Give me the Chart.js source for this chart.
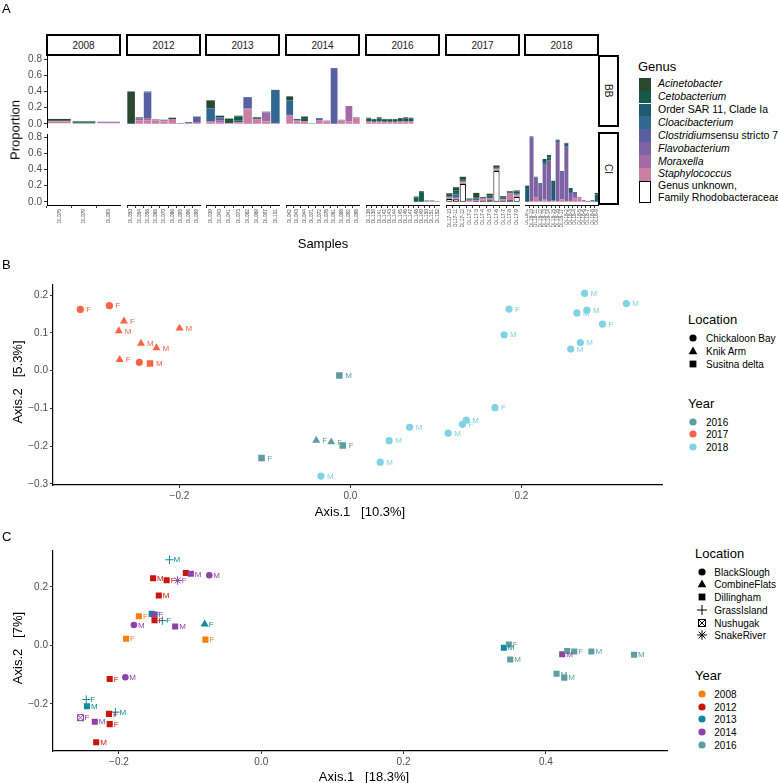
<!DOCTYPE html>
<html>
<head>
<meta charset="utf-8">
<script src="https://cdn.jsdelivr.net/npm/chart.js@4.4.1/dist/chart.umd.min.js"></script>
<style>
  body { margin: 0; background: #fff; font-family: "Liberation Sans", Arial, sans-serif; }
  #fig { position: relative; width: 778px; height: 783px; overflow: hidden; background: #fff; }
  #fig div { position: absolute; }
  .strip { box-sizing: border-box; border: 2.5px solid #000; font-size: 10px; color: #1a1a1a;
           display: flex; align-items: center; justify-content: center; background: #fff; }
  .vstrip span { writing-mode: vertical-rl; }
  .ttl { font-size: 13px; color: #000; white-space: pre; transform: translate(-50%, -50%); }
  .vttl { font-size: 13px; color: #000; white-space: pre; transform: translate(-50%, -50%) rotate(-90deg); }
  .leg { font-size: 10px; color: #000; white-space: nowrap; transform: translateY(-50%); }
  .legt { font-size: 13px; color: #000; transform: translateY(-50%); }
</style>
</head>
<body>
<div id="fig"></div>
<script>
// ---------- panel A data ----------
const years = ['2008', '2012', '2013', '2014', '2016', '2017', '2018'];
const sites = ['BB', 'CI'];
const propTicks = [0, 0.2, 0.4, 0.6, 0.8];

const sampleNames = [
  'DL075', 'DL079', 'DL093',
  'DL050', 'DL054', 'DL058', 'DL068', 'DL070', 'DL086', 'DL095', 'DL096', 'DL099',
  'DL039', 'DL040', 'DL041', 'DL073', 'DL082', 'DL089', 'DL097', 'DL101',
  'DL042', 'DL043', 'DL044', 'DL071', 'DL072', 'DL078', 'DL081', 'DL088', 'DL092', 'DL098',
  'DL138', 'DL139', 'DL141', 'DL142', 'DL143', 'DL144', 'DL145', 'DL146', 'DL147', 'DL148', 'DL149', 'DL150', 'DL151', 'DL152',
  'DL17-10', 'DL17-11', 'DL17-12', 'DL17-2', 'DL17-3', 'DL17-4', 'DL17-5', 'DL17-6', 'DL17-7', 'DL17-8', 'DL17-9',
  'DL18-1', 'DL18-10', 'DL18-11', 'DL18-12', 'DL18-13', 'DL18-14', 'DL18-15', 'DL18-16', 'DL18-17',
  'DL18-2', 'DL18-3', 'DL18-4', 'DL18-5', 'DL18-6', 'DL18-7', 'DL18-8', 'DL18-9'
];
const sampleYear = [
  '2008', '2008', '2008',
  ...Array(9).fill('2012'), ...Array(8).fill('2013'), ...Array(10).fill('2014'),
  ...Array(14).fill('2016'), ...Array(11).fill('2017'), ...Array(17).fill('2018')
];
const sampleSite = [
  ...Array(3 + 9 + 8 + 10 + 9).fill('BB'),
  ...Array(5 + 11 + 17).fill('CI')
];

// one value per sample, in the sample order above
const acinetobacter = [
  .015, .015, 0,
  .39, 0, 0, 0, 0, .02, 0, 0, 0,
  .10, .02, .03, .01, 0, .01, 0, 0,
  .05, 0, .02, 0, 0, 0, 0, 0, 0, 0,
  .01, .01, .015, .01, .01, .01, .01, .015, .01, .01, .01, 0, 0, 0,
  .02, .04, .03, .01, .06, .01, .02, .02, .01, .01, .01,
  0, 0, 0, 0, 0, 0, 0, 0, 0, 0, 0, 0, 0, 0, 0, 0, 0
];
const cetobacterium = [
  .01, .01, 0,
  .01, 0, 0, 0, 0, 0, 0, 0, 0,
  0, 0, .025, .05, 0, 0, 0, 0,
  0, 0, .04, 0, 0, 0, 0, 0, 0, 0,
  .035, .025, .035, .025, .025, .025, .03, .035, .035, .055, .12, .01, .005, .005,
  .02, .03, .02, 0, .01, 0, .02, .01, .01, .01, .03,
  .03, 0, 0, 0, .04, .03, 0, .01, 0, .01, 0, 0, 0, 0, 0, 0, .02
];
const sar11 = [
  0, 0, 0,
  0, 0, 0, .005, .005, 0, .005, 0, 0,
  0, 0, 0, .02, 0, .01, 0, 0,
  0, 0, 0, 0, 0, 0, 0, 0, 0, 0,
  0, 0, 0, 0, 0, 0, 0, 0, 0, 0, 0, 0, 0, 0,
  0, .02, .01, 0, 0, 0, 0, 0, 0, 0, .01,
  .17, .01, .01, .01, .03, .04, .24, .02, .01, .03, .06, .01, 0, 0, 0, .01, .09
];
const cloacibacterium = [
  0, 0, 0,
  0, .01, .01, 0, 0, 0, 0, .01, 0,
  .16, .01, 0, 0, .01, 0, .01, .41,
  .18, .02, 0, .005, 0, 0, 0, 0, 0, 0,
  0, 0, 0, 0, 0, 0, 0, 0, 0, 0, 0, 0, 0, 0,
  .01, .03, 0, .01, .02, .01, .02, .01, .02, 0, 0,
  0, 0, 0, 0, 0, 0, 0, 0, 0, 0, 0, 0, 0, 0, 0, 0, 0
];
const clostridium = [
  0, 0, .005,
  0, 0, .32, 0, 0, 0, 0, 0, .07,
  0, .03, 0, 0, .13, 0, 0, 0,
  0, 0, 0, 0, .03, 0, .69, 0, 0, 0,
  0, 0, 0, 0, 0, 0, 0, 0, 0, 0, 0, 0, 0, 0,
  0, .01, 0, 0, 0, 0, 0, 0, 0, 0, 0,
  0, 0, 0, 0, 0, 0, 0, 0, 0, 0, 0, 0, 0, 0, 0, 0, 0
];
const flavobacterium = [
  0, 0, 0,
  0, 0, 0, 0, 0, 0, 0, 0, 0,
  0, 0, 0, 0, 0, 0, 0, 0,
  0, 0, 0, 0, 0, 0, 0, 0, 0, 0,
  0, 0, 0, 0, 0, 0, 0, 0, 0, 0, 0, 0, 0, 0,
  0, 0, 0, 0, 0, 0, 0, 0, 0, 0, 0,
  0, .79, .24, .21, .43, .50, .01, .73, .34, .68, .10, .05, .01, .01, .01, 0, 0
];
const moraxella = [
  .005, 0, .01,
  0, .03, .03, .01, .015, .005, 0, 0, .01,
  .01, .02, 0, 0, .01, .01, .11, 0,
  0, .01, 0, 0, 0, .01, 0, .01, .19, .01,
  .01, .01, .01, .01, .005, .005, .01, .01, .01, 0, 0, 0, 0, 0,
  .01, .01, .01, .01, 0, .01, 0, .01, 0, .01, .01,
  0, 0, 0, 0, .01, 0, 0, 0, 0, 0, 0, .02, .01, 0, 0, 0, 0
];
const staphylococcus = [
  .03, .005, .01,
  0, .04, .04, .04, .03, .05, .005, .01, .01,
  .02, .02, .01, .02, .18, .05, .03, .01,
  .11, .03, .03, 0, .04, .03, 0, .04, .03, .07,
  .02, .015, .02, .015, .02, .02, .02, .02, .02, 0, 0, .005, .01, 0,
  .01, .01, .02, .01, .01, .02, .02, .02, .02, .08, .02,
  0, .01, .06, .01, .02, .01, .01, .01, .03, .01, .01, .04, .04, .01, 0, .01, 0
];
const rhodobacteraceae = [
  0, 0, 0,
  0, 0, 0, 0, 0, 0, 0, 0, 0,
  0, 0, 0, 0, 0, 0, 0, 0,
  0, 0, 0, 0, 0, 0, 0, 0, 0, 0,
  0, 0, 0, 0, 0, 0, 0, 0, 0, 0, 0, 0, 0, 0,
  .035, .03, .22, 0, .01, .01, .02, .38, .01, .02, .06,
  0, 0, 0, 0, 0, 0, 0, 0, 0, 0, 0, 0, 0, 0, 0, 0, 0
];

const genusLabels = [
  '<i>Acinetobacter</i>', '<i>Cetobacterium</i>', 'Order SAR 11, Clade Ia', '<i>Cloacibacterium</i>',
  '<i>Clostridium</i>sensu stricto 7', '<i>Flavobacterium</i>', '<i>Moraxella</i>', '<i>Staphylococcus</i>',
  'Genus unknown,<br>Family Rhodobacteraceae'
];
const genusValues = [acinetobacter, cetobacterium, sar11, cloacibacterium, clostridium,
                     flavobacterium, moraxella, staphylococcus, rhodobacteraceae];
const genusColors = ['#29492f', '#14594a', '#1c5c6c', '#326792', '#5860a2', '#7d62a4', '#a46aa5', '#cb80a3', '#ffffff'];

// ---------- panel B data ----------
const bX = [-0.316, -0.282, -0.265, -0.271, -0.200, -0.245, -0.227, -0.270, -0.247, -0.2345,
            -0.013, -0.040, -0.0225, -0.009, -0.104,
            -0.0345, 0.0453, 0.0349, 0.0693, 0.1143, 0.131, 0.1356, 0.169, 0.1798, 0.1856,
            0.274, 0.265, 0.2767, 0.3228, 0.2949, 0.269, 0.2577];
const bY = [0.162, 0.172, 0.131, 0.105, 0.112, 0.072, 0.060, 0.029, 0.022, 0.019,
            -0.013, -0.1845, -0.189, -0.198, -0.231,
            -0.279, -0.1855, -0.2424, -0.150, -0.1656, -0.142, -0.131, -0.098, 0.095, 0.163,
            0.2044, 0.1527, 0.160, 0.1777, 0.1233, 0.0742, 0.057];
const bLoc = ['Chickaloon Bay', 'Chickaloon Bay', 'Knik Arm', 'Knik Arm', 'Knik Arm', 'Knik Arm', 'Knik Arm', 'Knik Arm', 'Chickaloon Bay', 'Susitna delta',
              'Susitna delta', 'Knik Arm', 'Knik Arm', 'Susitna delta', 'Susitna delta',
              ...Array(17).fill('Chickaloon Bay')];
const bYear = [...Array(10).fill('2017'), ...Array(5).fill('2016'), ...Array(17).fill('2018')];
const bSex = ['F', 'F', 'F', 'M', 'M', 'M', 'M', 'F', '', 'M',
              'M', 'F', 'F', 'F', 'F',
              'M', 'M', 'M', 'M', 'M', 'F', 'M', 'F', 'M', 'F', 'M', 'M', 'M', 'M', 'F', 'M', 'M'];
const bLocations = ['Chickaloon Bay', 'Knik Arm', 'Susitna delta'];
const bShapes = ['circle', 'triangle', 'square'];
const bYears = ['2016', '2017', '2018'];
const bYearColors = ['#5f9ea0', '#fb6446', '#7fd3e4'];
const bXTicks = [-0.2, 0, 0.2];
const bYTicks = [-0.3, -0.2, -0.1, 0, 0.1, 0.2];

// ---------- panel C data ----------
const cX = [-0.129, -0.152, -0.133, -0.106, -0.099, -0.1175, -0.073, -0.144, -0.172, -0.154,
            -0.150, -0.150, -0.139, -0.179, -0.121, -0.0795, -0.190, -0.0785, -0.213, -0.191,
            -0.246, -0.245, -0.214, -0.205, -0.254, -0.234, -0.213, -0.232,
            0.341, 0.348, 0.350, 0.423, 0.430, 0.440, 0.464, 0.524, 0.415, 0.426];
const cY = [0.293, 0.230, 0.223, 0.248, 0.245, 0.222, 0.240, 0.171, 0.100, 0.108,
            0.1057, 0.086, 0.085, 0.070, 0.065, 0.073, 0.023, 0.020, -0.115, -0.109,
            -0.185, -0.208, -0.234, -0.228, -0.247, -0.261, -0.269, -0.331,
            -0.008, 0.003, -0.048, -0.030, -0.019, -0.021, -0.021, -0.032, -0.097, -0.110];
const cLoc = ['GrassIsland', 'Dillingham', 'Dillingham', 'Dillingham', 'Dillingham', 'SnakeRiver', 'BlackSlough', 'Dillingham', 'Dillingham', 'Dillingham',
              'Dillingham', 'Dillingham', 'GrassIsland', 'BlackSlough', 'Dillingham', 'CombineFlats', 'Dillingham', 'Dillingham', 'Dillingham', 'BlackSlough',
              'GrassIsland', 'Dillingham', 'Dillingham', 'GrassIsland', 'Nushugak', 'Dillingham', 'Dillingham', 'Dillingham',
              ...Array(10).fill('Dillingham')];
const cYear = ['2013', '2012', '2012', '2012', '2014', '2014', '2014', '2012', '2008', '2013',
               '2014', '2012', '2013', '2014', '2014', '2013', '2008', '2008', '2012', '2014',
               '2013', '2013', '2012', '2013', '2014', '2014', '2012', '2012',
               '2013', '2016', '2016', '2014', '2016', '2016', '2016', '2016', '2016', '2016'];
const cSex = ['M', 'M', 'F', '', 'M', 'F', 'M', 'M', 'F', 'F',
              'F', 'F', 'F', 'M', 'M', 'F', 'F', 'F', 'F', 'M',
              'F', 'M', 'F', 'M', 'F', 'M', 'F', 'M',
              'M', 'F', 'M', 'M', '', 'F', 'M', 'M', 'M', 'M'];
const cLocations = ['BlackSlough', 'CombineFlats', 'Dillingham', 'GrassIsland', 'Nushugak', 'SnakeRiver'];
const cShapes = ['circle', 'triangle', 'square', 'plus', 'boxx', 'star'];
const cYears = ['2008', '2012', '2013', '2014', '2016'];
const cYearColors = ['#fd7f12', '#c8160f', '#0e8b9e', '#8e42a6', '#5f9ea0'];
const cXTicks = [-0.2, 0, 0.2, 0.4];
const cYTicks = [-0.2, 0, 0.2];

// ---------- helpers ----------
const FONT = '"Liberation Sans", Arial, sans-serif';
Chart.defaults.font.family = FONT;
Chart.defaults.color = '#4d4d4d';
Chart.defaults.animation = false;

const fig = document.getElementById('fig');
function addDiv(html, css, cls) {
  const d = document.createElement('div');
  if (cls) d.className = cls;
  d.innerHTML = html;
  Object.assign(d.style, css);
  fig.appendChild(d);
  return d;
}
function addCanvas(left, top, width, height) {
  const d = addDiv('', { left: left + 'px', top: top + 'px', width: width + 'px', height: height + 'px' });
  const cv = document.createElement('canvas');
  d.appendChild(cv);
  return cv;
}
const fixW = w => s => { s.width = w; s.paddingTop = 0; s.paddingBottom = 0; };
const fixH = h => s => { s.height = h; s.paddingLeft = 0; s.paddingRight = 0; };
const setTicks = vals => s => { s.ticks = vals.map(v => ({ value: v })); };
const fmt = v => (v < 0 ? '\u2212' : '') + Math.abs(v).toFixed(1);

// ---------- panel A ----------
const colLeft = years.map((y, i) => Math.round(47 + i * 79.7));
const colW = 74, rowH = 71, yAxisW = 28, xAxisH = 34, padV = 6;
const rowTop = { BB: 56, CI: 134 };
const stackOrder = [8, 7, 6, 5, 4, 3, 2, 1, 0]; // bottom to top

years.forEach((yr, ci) => {
  const idx = sampleYear.map((y, i) => (y === yr ? i : -1)).filter(i => i >= 0);
  const labels = idx.map(i => sampleNames[i]);
  addDiv('<span>' + yr + '</span>', { left: (colLeft[ci] - 1) + 'px', top: '34px', width: (colW + 1) + 'px', height: '22px' }, 'strip');

  sites.forEach(site => {
    const showY = ci === 0;
    const showX = site === 'CI';
    const cv = addCanvas(colLeft[ci] - (showY ? yAxisW : 0), rowTop[site] - padV,
                         colW + (showY ? yAxisW : 0), rowH + 2 * padV + (showX ? xAxisH : 0));
    const datasets = stackOrder.map(g => ({
      data: idx.map(i => (sampleSite[i] === site && genusValues[g][i] > 0 ? genusValues[g][i] : null)),
      backgroundColor: genusColors[g],
      borderColor: '#000',
      borderWidth: g === 8 ? 1 : 0,
      borderSkipped: false,
      barPercentage: 0.92,
      categoryPercentage: 1
    }));
    new Chart(cv, {
      type: 'bar',
      data: { labels, datasets },
      options: {
        responsive: true,
        maintainAspectRatio: false,
        layout: { padding: { top: padV, bottom: padV, left: 0, right: 0 } },
        plugins: { legend: { display: false }, tooltip: { enabled: false } },
        scales: {
          x: {
            display: showX,
            stacked: true,
            grid: { drawOnChartArea: false, drawTicks: true, tickLength: 3, color: '#333' },
            border: { display: true, color: '#000', width: 1 },
            ticks: { autoSkip: false, minRotation: 90, maxRotation: 90, padding: 1,
                     font: { size: 4.8 }, color: '#4d4d4d' },
            afterFit: showX ? fixH(xAxisH) : undefined
          },
          y: {
            display: showY,
            stacked: true,
            min: -0.04,
            max: 0.84,
            afterBuildTicks: setTicks(propTicks),
            grid: { drawOnChartArea: false, drawTicks: true, tickLength: 3, color: '#333' },
            border: { display: true, color: '#000', width: 1 },
            ticks: { autoSkip: false, padding: 2, font: { size: 10 }, color: '#4d4d4d', callback: v => v.toFixed(1) },
            afterFit: showY ? fixW(yAxisW) : undefined
          }
        }
      }
    });
  });
});

addDiv('<span>BB</span>', { left: '598px', top: '55px', width: '21px', height: '72px' }, 'strip vstrip');
addDiv('<span>CI</span>', { left: '598px', top: '132px', width: '21px', height: '73px' }, 'strip vstrip');
addDiv('Proportion', { left: '15px', top: '130px' }, 'vttl');
addDiv('Samples', { left: '323px', top: '243px' }, 'ttl');

// genus legend
addDiv('Genus', { left: '638px', top: '66px' }, 'legt');
let gy = 77.7;
genusLabels.forEach((lab, k) => {
  const h = k === 8 ? 22 : 12.9;
  addDiv('', {
    left: '639px', top: gy + 'px', width: '12px', height: h + 'px', background: genusColors[k],
    boxSizing: 'border-box', border: k === 8 ? '1px solid #000' : 'none'
  });
  addDiv(lab, { left: '658px', top: (gy + h / 2) + 'px', fontSize: '10.5px', lineHeight: '11.7px' }, 'leg');
  gy += h;
});

// ---------- scatter panels ----------
const boxXCache = {};
function boxX(color) {
  if (!boxXCache[color]) {
    const c = document.createElement('canvas');
    c.width = 9; c.height = 9;
    const g = c.getContext('2d');
    g.strokeStyle = color; g.lineWidth = 1;
    g.strokeRect(1.5, 1.5, 6, 6);
    g.beginPath(); g.moveTo(1.5, 1.5); g.lineTo(7.5, 7.5); g.moveTo(7.5, 1.5); g.lineTo(1.5, 7.5); g.stroke();
    boxXCache[color] = c;
  }
  return boxXCache[color];
}
const chartStyle = { circle: 'circle', triangle: 'triangle', square: 'rect', plus: 'cross', star: 'star' };

const sexLabels = {
  id: 'sexLabels',
  afterDatasetsDraw(chart, args, opts) {
    const ctx = chart.ctx;
    ctx.save();
    ctx.font = '8px ' + FONT;
    ctx.textBaseline = 'middle';
    chart.data.datasets.forEach((ds, di) => {
      chart.getDatasetMeta(di).data.forEach((pt, i) => {
        if (!ds.sex[i]) return;
        ctx.fillStyle = ds.pointBackgroundColor[i];
        ctx.fillText(ds.sex[i], pt.x + opts.dx, pt.y + 0.5);
      });
    });
    ctx.restore();
  }
};

function scatterPanel(cfg) {
  const datasets = cfg.locations.map((loc, li) => {
    const idx = cfg.loc.map((l, i) => (l === loc ? i : -1)).filter(i => i >= 0);
    const shape = cfg.shapes[li];
    const colors = idx.map(i => cfg.yearColors[cfg.years.indexOf(cfg.year[i])]);
    return {
      data: idx.map(i => ({ x: cfg.x[i], y: cfg.y[i] })),
      sex: idx.map(i => cfg.sex[i]),
      pointStyle: shape === 'boxx' ? colors.map(boxX) : chartStyle[shape],
      pointRadius: cfg.radius[shape],
      pointBackgroundColor: colors,
      pointBorderColor: colors,
      pointBorderWidth: (shape === 'plus' || shape === 'star') ? 1 : 0,
      showLine: false
    };
  });
  const cv = addCanvas(53 - 34, cfg.top, 34 + cfg.width, cfg.height + 20);
  new Chart(cv, {
    type: 'scatter',
    data: { datasets },
    plugins: [sexLabels],
    options: {
      responsive: true,
      maintainAspectRatio: false,
      layout: { padding: 0 },
      plugins: { legend: { display: false }, tooltip: { enabled: false }, sexLabels: { dx: cfg.dx } },
      scales: {
        x: {
          type: 'linear', min: cfg.xRange[0], max: cfg.xRange[1],
          afterBuildTicks: setTicks(cfg.xTicks),
          grid: { drawOnChartArea: false, tickLength: 3, color: '#333' },
          border: { color: '#000', width: 1.2 },
          ticks: { padding: 2, font: { size: 10 }, color: '#4d4d4d', callback: fmt },
          afterFit: fixH(20)
        },
        y: {
          type: 'linear', min: cfg.yRange[0], max: cfg.yRange[1],
          afterBuildTicks: setTicks(cfg.yTicks),
          grid: { drawOnChartArea: false, tickLength: 3, color: '#333' },
          border: { color: '#000', width: 1.2 },
          ticks: { padding: 2, font: { size: 10 }, color: '#4d4d4d', callback: fmt },
          afterFit: fixW(34)
        }
      }
    }
  });
}

function shapeSvg(shape, color) {
  const s = {
    circle: `<circle cx="6" cy="6" r="3.6" fill="${color}"/>`,
    triangle: `<polygon points="6,1.6 10.3,9.2 1.7,9.2" fill="${color}"/>`,
    square: `<rect x="2.6" y="2.6" width="6.8" height="6.8" fill="${color}"/>`,
    plus: `<path d="M6 1V11M1 6H11" stroke="${color}" stroke-width="1"/>`,
    boxx: `<rect x="2.5" y="2.5" width="7" height="7" fill="none" stroke="${color}"/><path d="M2.5 2.5L9.5 9.5M9.5 2.5L2.5 9.5" stroke="${color}"/>`,
    star: `<path d="M6 1.2V10.8M1.2 6H10.8M2.6 2.6L9.4 9.4M9.4 2.6L2.6 9.4" stroke="${color}" stroke-width="1"/>`
  }[shape];
  return `<svg width="12" height="12" viewBox="0 0 12 12" style="display:block">${s}</svg>`;
}
function scatterLegend(lg) {
  addDiv('Location', { left: lg.left + 'px', top: lg.locTitle + 'px' }, 'legt');
  lg.locations.forEach((loc, k) => {
    const y = lg.locItems[k];
    addDiv(shapeSvg(lg.shapes[k], '#000'), { left: (lg.symX - 6) + 'px', top: (y - 6) + 'px' });
    addDiv(loc, { left: lg.textX + 'px', top: y + 'px' }, 'leg');
  });
  addDiv('Year', { left: lg.left + 'px', top: lg.yearTitle + 'px' }, 'legt');
  lg.years.forEach((yr, k) => {
    const y = lg.yearItems[k];
    addDiv(shapeSvg('circle', lg.colors[k]), { left: (lg.symX - 6) + 'px', top: (y - 6) + 'px' });
    addDiv(yr, { left: lg.textX + 'px', top: y + 'px' }, 'leg');
  });
}

// panel B
scatterPanel({
  x: bX, y: bY, loc: bLoc, year: bYear, sex: bSex,
  locations: bLocations, shapes: bShapes, years: bYears, yearColors: bYearColors,
  radius: { circle: 3.6, triangle: 4.6, square: 4.6 },
  xRange: [-0.348, 0.365], yRange: [-0.3027, 0.2277], xTicks: bXTicks, yTicks: bYTicks,
  top: 280, width: 614, height: 205, dx: 6
});
addDiv('Axis.1   [10.3%]', { left: '360px', top: '511px' }, 'ttl');
addDiv('Axis.2   [5.3%]', { left: '17px', top: '382px' }, 'vttl');
scatterLegend({
  left: 688, symX: 692.7, textX: 706, locations: bLocations, shapes: bShapes,
  locTitle: 319, locItems: [337.7, 350.7, 363.7],
  years: bYears, colors: bYearColors, yearTitle: 403, yearItems: [421.7, 434.3, 447.3]
});

// panel C
scatterPanel({
  x: cX, y: cY, loc: cLoc, year: cYear, sex: cSex,
  locations: cLocations, shapes: cShapes, years: cYears, yearColors: cYearColors,
  radius: { circle: 3.3, triangle: 4.6, square: 4.3, plus: 4.2, boxx: 4, star: 4.2 },
  xRange: [-0.2927, 0.5714], yRange: [-0.361, 0.3257], xTicks: cXTicks, yTicks: cYTicks,
  top: 545, width: 620, height: 206, dx: 4
});
addDiv('Axis.1   [18.3%]', { left: '364px', top: '776px' }, 'ttl');
addDiv('Axis.2   [7%]', { left: '17px', top: '648px' }, 'vttl');
scatterLegend({
  left: 695, symX: 701.7, textX: 714.3, locations: cLocations, shapes: cShapes,
  locTitle: 553, locItems: [571.7, 584.3, 597.3, 610, 622.7, 635.3],
  years: cYears, colors: cYearColors, yearTitle: 675, yearItems: [694, 706.7, 719.3, 732, 745]
});

// panel tags
addDiv('A', { left: '2px', top: '1px', fontSize: '13px' });
addDiv('B', { left: '2px', top: '257px', fontSize: '13px' });
addDiv('C', { left: '2px', top: '529px', fontSize: '13px' });
</script>
</body>
</html>
